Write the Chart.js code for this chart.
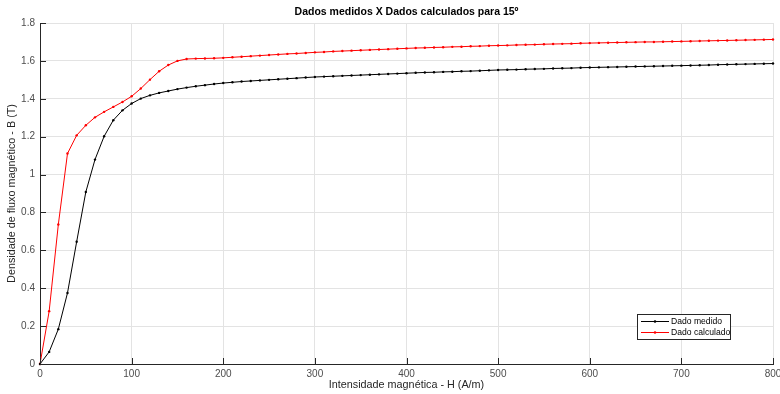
<!DOCTYPE html>
<html>
<head>
<meta charset="utf-8">
<script src="https://cdn.jsdelivr.net/npm/chart.js@4/dist/chart.umd.min.js"></script>
<style>
  html, body { margin: 0; padding: 0; background: #fff; }
  #wrap { width: 780px; height: 394px; position: relative; }
</style>
</head>
<body>
<div id="wrap"><canvas id="chart" width="780" height="394"></canvas></div>
<script>
// H (A/m) every 10 from 0 to 800
const hValues = [
  0, 10, 20, 30, 40, 50, 60, 70, 80, 90,
  100, 110, 120, 130, 140, 150, 160, 170, 180, 190,
  200, 210, 220, 230, 240, 250, 260, 270, 280, 290,
  300, 310, 320, 330, 340, 350, 360, 370, 380, 390,
  400, 410, 420, 430, 440, 450, 460, 470, 480, 490,
  500, 510, 520, 530, 540, 550, 560, 570, 580, 590,
  600, 610, 620, 630, 640, 650, 660, 670, 680, 690,
  700, 710, 720, 730, 740, 750, 760, 770, 780, 790,
  800,
];

const bMedido = [
  0, 0.064, 0.184, 0.375, 0.645, 0.908, 1.079, 1.202, 1.287, 1.339,
  1.375, 1.401, 1.418, 1.431, 1.441, 1.451, 1.459, 1.466, 1.472, 1.478,
  1.483, 1.487, 1.491, 1.494, 1.497, 1.500, 1.503, 1.506, 1.509, 1.512,
  1.515, 1.517, 1.519, 1.521, 1.523, 1.525, 1.527, 1.529, 1.531, 1.533,
  1.535, 1.537, 1.539, 1.540, 1.542, 1.543, 1.545, 1.546, 1.548, 1.550,
  1.552, 1.553, 1.554, 1.556, 1.557, 1.558, 1.560, 1.561, 1.562, 1.564,
  1.565, 1.566, 1.567, 1.568, 1.569, 1.570, 1.571, 1.572, 1.573, 1.574,
  1.575, 1.576, 1.577, 1.578, 1.580, 1.581, 1.582, 1.583, 1.584, 1.585,
  1.586,
];

const bCalculado = [
  0, 0.279, 0.736, 1.111, 1.207, 1.260, 1.302, 1.331, 1.357, 1.383,
  1.413, 1.454, 1.501, 1.545, 1.578, 1.600, 1.610, 1.612, 1.613, 1.614,
  1.616, 1.619, 1.622, 1.625, 1.628, 1.631, 1.634, 1.637, 1.639, 1.642,
  1.645, 1.647, 1.650, 1.652, 1.654, 1.656, 1.658, 1.660, 1.662, 1.664,
  1.666, 1.668, 1.669, 1.671, 1.672, 1.674, 1.675, 1.677, 1.678, 1.680,
  1.681, 1.682, 1.684, 1.685, 1.686, 1.688, 1.689, 1.690, 1.691, 1.693,
  1.694, 1.695, 1.696, 1.697, 1.698, 1.699, 1.700, 1.700, 1.701, 1.702,
  1.703, 1.704, 1.705, 1.706, 1.707, 1.708, 1.709, 1.710, 1.711, 1.712,
  1.713,
];

const xTicks = [0, 100, 200, 300, 400, 500, 600, 700, 800];
const yTicks = [0, 0.2, 0.4, 0.6, 0.8, 1, 1.2, 1.4, 1.6, 1.8];

const FONT = "'Liberation Sans', Arial, Helvetica, sans-serif";
const AXIS = "#262626";
const TICK_TEXT = "#4d4d4d";

// inward tick marks, title and the boxed legend, all on the canvas
const matlabLook = {
  id: "matlabLook",
  afterDraw(chart) {
    const { ctx, chartArea: a, scales } = chart;
    ctx.save();
    ctx.strokeStyle = AXIS;
    ctx.lineWidth = 1;
    ctx.beginPath();
    xTicks.forEach((v) => {
      const x = Math.round(scales.x.getPixelForValue(v)) + 0.5;
      ctx.moveTo(x, a.bottom);
      ctx.lineTo(x, a.bottom - 6);
    });
    yTicks.forEach((v) => {
      const y = Math.round(scales.y.getPixelForValue(v)) + 0.5;
      ctx.moveTo(a.left, y);
      ctx.lineTo(a.left + 6, y);
    });
    ctx.stroke();

    ctx.fillStyle = "#000";
    ctx.font = `bold 10.5px ${FONT}`;
    ctx.textAlign = "center";
    ctx.textBaseline = "middle";
    ctx.fillText("Dados medidos X Dados calculados para 15º", (a.left + a.right) / 2, 12);

    // legend
    const lx = 637, ly = 314, lw = 93, lh = 25;
    ctx.fillStyle = "#fff";
    ctx.fillRect(lx, ly, lw, lh);
    ctx.strokeStyle = "#262626";
    ctx.strokeRect(lx + 0.5, ly + 0.5, lw, lh);
    ctx.font = `8.6px ${FONT}`;
    ctx.textAlign = "left";
    chart.data.datasets.forEach((ds, i) => {
      const y = ly + 7.5 + i * 11;
      ctx.strokeStyle = ds.borderColor;
      ctx.beginPath();
      ctx.moveTo(lx + 4, y);
      ctx.lineTo(lx + 32, y);
      ctx.stroke();
      ctx.fillStyle = ds.borderColor;
      ctx.beginPath();
      ctx.arc(lx + 18, y, 1.3, 0, Math.PI * 2);
      ctx.fill();
      ctx.fillStyle = "#000";
      ctx.fillText(ds.label, lx + 34, y + 0.5);
    });
    ctx.restore();
  },
};

new Chart(document.getElementById("chart"), {
  type: "line",
  data: {
    labels: hValues,
    datasets: [
      {
        label: "Dado medido",
        data: hValues.map((h, i) => ({ x: h, y: bMedido[i] })),
        borderColor: "#000000",
        backgroundColor: "#000000",
        borderWidth: 1,
        pointRadius: 1.2,
        pointBorderWidth: 0,
        tension: 0,
      },
      {
        label: "Dado calculado",
        data: hValues.map((h, i) => ({ x: h, y: bCalculado[i] })),
        borderColor: "#ff0000",
        backgroundColor: "#ff0000",
        borderWidth: 1,
        pointRadius: 1.2,
        pointBorderWidth: 0,
        tension: 0,
      },
    ],
  },
  options: {
    responsive: false,
    animation: false,
    clip: false,
    layout: { padding: { top: 23, right: 7, left: 0, bottom: 0 } },
    plugins: {
      legend: { display: false },
      title: { display: false },
      tooltip: { enabled: false },
    },
    scales: {
      x: {
        type: "linear",
        min: 0,
        max: 800,
        afterBuildTicks: (s) => { s.ticks = xTicks.map((v) => ({ value: v })); },
        afterFit: (s) => { s.height = 30; s.paddingRight = 0; s.paddingLeft = 0; },
        grid: { color: "#e3e3e3", drawTicks: false },
        border: { color: AXIS, width: 1 },
        ticks: { color: TICK_TEXT, font: { family: FONT, size: 10 }, padding: 4, maxRotation: 0 },
        title: {
          display: true,
          text: "Intensidade magnética - H (A/m)",
          color: AXIS,
          font: { family: FONT, size: 10.8 },
          padding: { top: 0, bottom: 2 },
        },
      },
      y: {
        min: 0,
        max: 1.8,
        afterBuildTicks: (s) => { s.ticks = yTicks.map((v) => ({ value: v })); },
        afterFit: (s) => { s.width = 40; s.paddingTop = 0; s.paddingBottom = 0; },
        grid: { color: "#e3e3e3", drawTicks: false },
        border: { color: AXIS, width: 1 },
        ticks: {
          color: TICK_TEXT,
          font: { family: FONT, size: 10 },
          padding: 5,
          callback: (v) => String(Math.round(v * 10) / 10),
        },
        title: {
          display: true,
          text: "Densidade de fluxo magnético - B (T)",
          color: AXIS,
          font: { family: FONT, size: 10.8 },
          padding: { top: 6, bottom: 0 },
        },
      },
    },
  },
  plugins: [matlabLook],
});
</script>
</body>
</html>
